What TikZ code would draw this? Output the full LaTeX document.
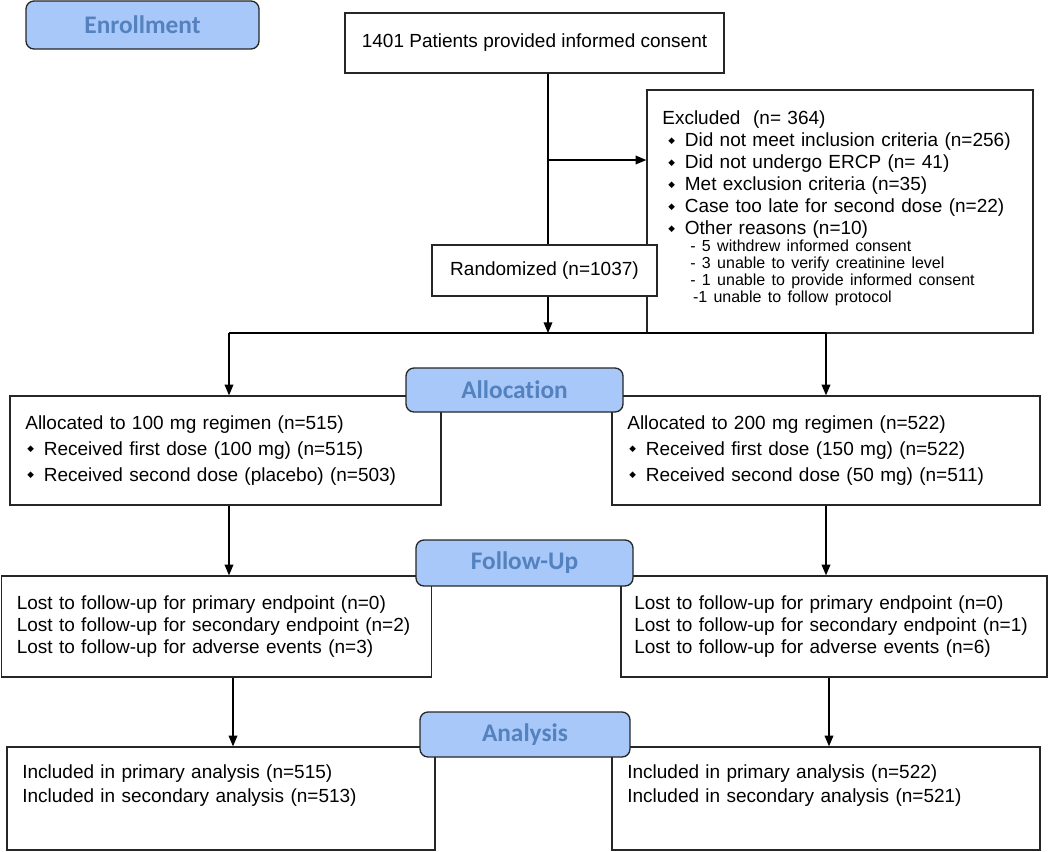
\documentclass[tikz,border=0pt]{standalone}
\usepackage{fontspec}
\setmainfont{Liberation Sans}
\newfontfamily\stagefont{Carlito}[Ligatures=NoCommon]
\newfontfamily\symfont{DejaVu Sans}
\usetikzlibrary{arrows.meta, positioning, calc}

\definecolor{stagefill}{RGB}{168,200,250}
\definecolor{stagetext}{RGB}{84,130,190}
\newcommand{\dia}{\raisebox{2.8pt}{\symfont\fontsize{6.5}{6.5}\selectfont ◆}}

\begin{document}
\begin{tikzpicture}
            [x=0.75pt, y=-0.75pt, >={Triangle[length=8pt,width=6.5pt]}, line width=1pt,
            box/.style={rectangle, draw=black!85, fill=white, align=left, inner xsep=11.5pt, inner ysep=2pt,
                        font=\fontsize{14.25}{16.5}\selectfont},
            stage/.style={rectangle, rounded corners=6pt, draw=black!85, fill=stagefill, text=stagetext,
                          font=\stagefont\bfseries\fontsize{19}{20}\selectfont}]

            \useasboundingbox (0,0) rectangle (1050,851);

            % enrollment
            \node[box, align=center, minimum width=284.25pt, minimum height=45pt] (consent) at (534.5,43)
                {1401 Patients provided informed consent};
            \node[box, text width=266.5pt, minimum height=182.25pt] (excl) at (840,211.5)
                {Excluded~~(n=~364)\\
                 \hspace*{4.5pt}\dia\hspace{7.4pt}Did not meet inclusion criteria (n=256)\\
                 \hspace*{4.5pt}\dia\hspace{7.4pt}Did not undergo ERCP (n=~41)\\
                 \hspace*{4.5pt}\dia\hspace{7.4pt}Met exclusion criteria (n=35)\\
                 \hspace*{4.5pt}\dia\hspace{7.4pt}Case too late for second dose (n=22)\\
                 \hspace*{4.5pt}\dia\hspace{7.4pt}Other reasons (n=10)\par
                 {\fontsize{12}{12.75}\selectfont
                 \hspace*{21pt}- 5 withdrew informed consent\\
                 \hspace*{21pt}- 3 unable to verify creatinine level\\
                 \hspace*{21pt}- 1 unable to provide informed consent\\
                 \hspace*{23pt}-1 unable to follow protocol\\[-6pt]\mbox{}\par}};
            \node[box, align=center, minimum width=168.75pt, minimum height=38.25pt] (rand) at (544.5,270.5)
                {Randomized (n=1037)};

            % allocation
            \node[box, text width=300.25pt, minimum height=81.75pt] (allocL) at (225.5,450.5)
                {Allocated to 100 mg regimen (n=515)\\[3pt]
                 \hspace*{1.5pt}\dia\hspace{7.4pt}Received first dose (100 mg) (n=515)\\[3pt]
                 \hspace*{1.5pt}\dia\hspace{7.4pt}Received second dose (placebo) (n=503)};
            \node[box, text width=298pt, minimum height=81.75pt] (allocR) at (826,450.5)
                {Allocated to 200 mg regimen (n=522)\\[3pt]
                 \hspace*{1.5pt}\dia\hspace{7.4pt}Received first dose (150 mg) (n=522)\\[3pt]
                 \hspace*{1.5pt}\dia\hspace{7.4pt}Received second dose (50 mg) (n=511)};

            % follow-up
            \node[box, text width=299.5pt, minimum height=75.75pt] (fupL) at (216.5,626.5)
                {Lost to follow-up for primary endpoint (n=0)\\
                 Lost to follow-up for secondary endpoint (n=2)\\
                 Lost to follow-up for adverse events (n=3)};
            \node[box, inner xsep=10pt, text width=299.5pt, minimum height=75.75pt] (fupR) at (834,626.5)
                {Lost to follow-up for primary endpoint (n=0)\\
                 Lost to follow-up for secondary endpoint (n=1)\\
                 Lost to follow-up for adverse events (n=6)};

            % analysis
            \node[box, text width=298pt, minimum height=77.25pt] (anaL) at (221,798.5)
                {Included in primary analysis (n=515)\\[1.5pt]
                 Included in secondary analysis (n=513)\\[6pt]\mbox{}};
            \node[box, text width=298pt, minimum height=77.25pt] (anaR) at (826,798.5)
                {Included in primary analysis (n=522)\\[1.5pt]
                 Included in secondary analysis (n=521)\\[6pt]\mbox{}};

            \coordinate (split) at (548,160);
            \coordinate (fork) at (548,333);
            \coordinate (forkL) at (229,333);
            \coordinate (forkR) at (826,333);
            \coordinate (dropL) at (233,0);
            \coordinate (dropR) at (829,0);

            \draw (consent.south -| split) -- (rand.north -| split);
            \draw[->] (split) -- (split -| excl.west);
            \draw[->] (rand.south -| fork) -- (fork);
            \draw (forkL) -- (forkR);
            \draw[->] (forkL) -- (forkL |- allocL.north);
            \draw[->] (forkR) -- (forkR |- allocR.north);
            \draw[->] (allocL.south -| forkL) -- (fupL.north -| forkL);
            \draw[->] (allocR.south -| forkR) -- (fupR.north -| forkR);
            \draw[->] (fupL.south -| dropL) -- (anaL.north -| dropL);
            \draw[->] (fupR.south -| dropR) -- (anaR.north -| dropR);

            % stage labels
            \node[stage, minimum width=174.75pt, minimum height=36pt] (enroll) at (142.5,25) {Enrollment};
            \node[stage, minimum width=162.75pt, minimum height=33pt] (alloc) at (514.5,390) {Allocation};
            \node[stage, minimum width=162.75pt, minimum height=34.5pt] (fup) at (524.5,563) {Follow-Up};
            \node[stage, minimum width=157.5pt, minimum height=33.75pt] (ana) at (525,734.5) {Analysis};

        \end{tikzpicture}
\end{document}
